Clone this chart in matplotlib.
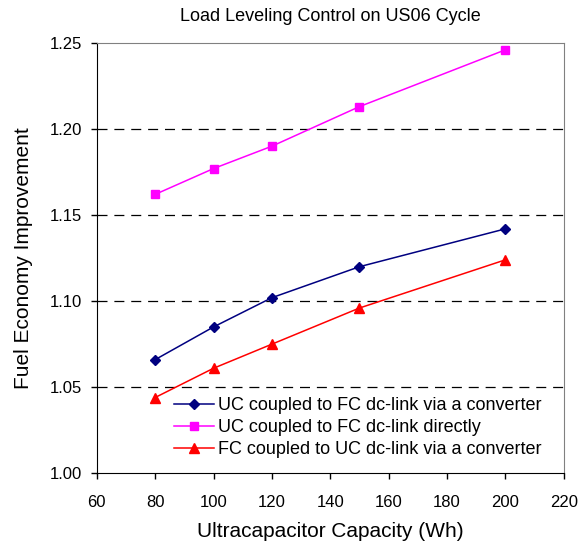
import matplotlib
matplotlib.use("Agg")
import matplotlib.pyplot as plt

plt.rcParams['font.family'] = ['Liberation Sans', 'DejaVu Sans']

capacity = [80, 100, 120, 150, 200]
uc_fc_converter = [1.066, 1.085, 1.102, 1.120, 1.142]
uc_fc_direct = [1.162, 1.177, 1.190, 1.213, 1.246]
fc_uc_converter = [1.044, 1.061, 1.075, 1.096, 1.124]

labels = ['UC coupled to FC dc-link via a converter',
          'UC coupled to FC dc-link directly',
          'FC coupled to UC dc-link via a converter']
y_ticks = [1.00, 1.05, 1.10, 1.15, 1.20, 1.25]

fig = plt.figure(figsize=(5.81, 5.5), dpi=100)
ax = fig.add_axes([0.1665, 0.1395, 0.804, 0.7825])

ax.plot(capacity, uc_fc_converter, color='#000080', marker='D', markersize=5,
        linewidth=1.1, label=labels[0], zorder=3)
ax.plot(capacity, uc_fc_direct, color='#FF00FF', marker='s', markersize=6,
        linewidth=1.1, label=labels[1], zorder=3)
ax.plot(capacity, fc_uc_converter, color='#FF0000', marker='^', markersize=6.8,
        linewidth=1.1, label=labels[2], zorder=3)

ax.set_xlim(60, 220)
ax.set_ylim(1.00, 1.25)
ax.set_xticks(range(60, 221, 20))
ax.set_yticks(y_ticks)
ax.set_yticklabels([f'{v:.2f}' for v in y_ticks])
for yv in y_ticks[1:-1]:
    ax.axhline(yv, color='black', linestyle=(0, (8, 5.5)), linewidth=0.9, zorder=1)

ax.tick_params(direction='out', length=4.3, labelsize=12, width=1)
ax.tick_params(axis='x', pad=11)
ax.tick_params(axis='y', pad=6)
for s in ['top', 'right']:
    ax.spines[s].set_color('#808080')
for s in ['left', 'bottom']:
    ax.spines[s].set_color('black')

ax.set_title('Load Leveling Control on US06 Cycle', fontsize=13, pad=16)
ax.set_xlabel('Ultracapacitor Capacity (Wh)', fontsize=15, labelpad=9)
ax.set_ylabel('Fuel Economy Improvement', fontsize=15, labelpad=12)

ax.legend(loc='lower right', bbox_to_anchor=(0.953, 0.035), frameon=False,
          fontsize=13, handlelength=2.2, handletextpad=0.25, labelspacing=0.28,
          borderpad=0, borderaxespad=0)

fig.savefig('out.png', dpi=100)
